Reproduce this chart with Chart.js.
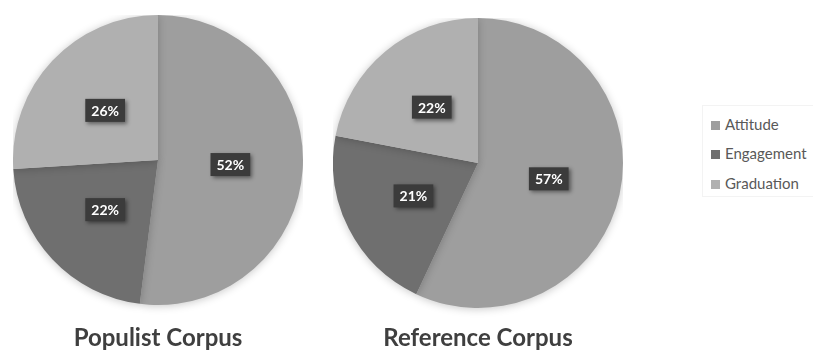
<!DOCTYPE html>
<html>
<head>
<meta charset="utf-8">
<script src="https://cdn.jsdelivr.net/npm/chart.js@4/dist/chart.umd.min.js"></script>
<style>
  html, body { margin: 0; padding: 0; background: #fff; }
  body { width: 813px; height: 354px; position: relative; overflow: hidden; font-family: Lato, sans-serif; }
  .box { position: absolute; }
  #legend { position: absolute; left: 702px; top: 105px; width: 111px; height: 92px; border: 1px solid #f3f3f3; border-right: none; box-sizing: border-box; }
  #legend div { position: absolute; left: 8px; font-size: 15px; color: #595959; line-height: 18px; white-space: nowrap; }
  #legend span { display: inline-block; width: 9px; height: 9px; margin-right: 5px; vertical-align: 0px; }
</style>
</head>
<body>
<div class="box" style="left:13px; top:15px; width:290px; height:339px;"><canvas id="pie1"></canvas></div>
<div class="box" style="left:333px; top:18px; width:290px; height:336px;"><canvas id="pie2"></canvas></div>
<div id="legend"></div>
<script>
const categories = ['Attitude', 'Engagement', 'Graduation'];
const populistValues = [52, 22, 26];
const referenceValues = [57, 21, 22];
const colors = ['#9e9e9e', '#6f6f6f', '#b0b0b0'];

// dark boxed percentage labels like the Excel original
const boxLabels = {
  id: 'boxLabels',
  afterDatasetsDraw(chart) {
    const ctx = chart.ctx;
    const meta = chart.getDatasetMeta(0);
    const values = chart.data.datasets[0].data;
    ctx.save();
    ctx.font = 'bold 14px Lato, sans-serif';
    ctx.textAlign = 'center';
    ctx.textBaseline = 'middle';
    meta.data.forEach((arc, i) => {
      const p = arc.tooltipPosition();
      const txt = values[i] + '%';
      const w = ctx.measureText(txt).width + 12;
      const h = 23;
      ctx.shadowColor = 'rgba(0,0,0,0.45)';
      ctx.shadowBlur = 4;
      ctx.shadowOffsetX = 2;
      ctx.shadowOffsetY = 2;
      ctx.fillStyle = '#3b3b3b';
      ctx.fillRect(p.x - w / 2, p.y - h / 2, w, h);
      ctx.shadowColor = 'transparent';
      ctx.fillStyle = '#ffffff';
      ctx.fillText(txt, p.x, p.y + 1);
    });
    ctx.restore();
  }
};

// soft shadow behind the pie
const pieShadow = {
  id: 'pieShadow',
  beforeDatasetsDraw(chart) {
    const ctx = chart.ctx;
    ctx.save();
    ctx.shadowColor = 'rgba(0,0,0,0.22)';
    ctx.shadowBlur = 8;
    ctx.shadowOffsetX = 0;
    ctx.shadowOffsetY = 1;
  },
  afterDatasetsDraw(chart) {
    chart.ctx.restore();
  }
};

function makePie(id, values, title, padTop) {
  return new Chart(document.getElementById(id), {
    type: 'pie',
    data: {
      labels: categories,
      datasets: [{
        data: values,
        backgroundColor: colors,
        borderWidth: 0
      }]
    },
    options: {
      responsive: true,
      maintainAspectRatio: false,
      animation: false,
      layout: { padding: 0 },
      plugins: {
        legend: { display: false },
        tooltip: { enabled: false },
        title: {
          display: true,
          text: title,
          position: 'bottom',
          color: '#3f3f3f',
          font: { family: 'Lato, sans-serif', size: 24, weight: 'bold' },
          padding: { top: padTop, bottom: 1.6 }
        }
      }
    },
    plugins: [pieShadow, boxLabels]
  });
}

makePie('pie1', populistValues, 'Populist Corpus', 18.6);
makePie('pie2', referenceValues, 'Reference Corpus', 15.6);

const legend = document.getElementById('legend');
const rowTops = [9, 38, 68];
categories.forEach((c, i) => {
  const row = document.createElement('div');
  row.style.top = rowTops[i] + 'px';
  row.innerHTML = '<span style="background:' + colors[i] + '"></span>' + c;
  legend.appendChild(row);
});
</script>
</body>
</html>
